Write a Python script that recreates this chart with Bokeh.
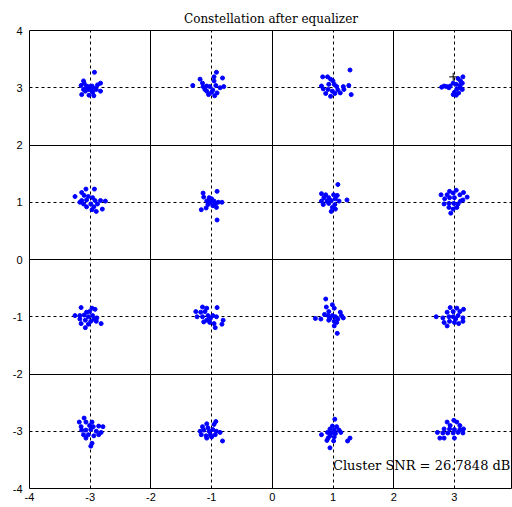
from bokeh.plotting import figure
from bokeh.models import FixedTicker, Grid, Range1d, Label
from bokeh.embed import file_html
from bokeh.resources import INLINE

# ---- data ----
title_text = "Constellation after equalizer"
snr_text = "Cluster SNR = 26.7848 dB"
tick_values = [-4, -3, -2, -1, 0, 1, 2, 3, 4]
tick_labels = ["-4", "-3", "-2", "-1", "0", "1", "2", "3", "4"]
solid_grid = [-2, 0, 2]
dashed_grid = [-3, -1, 1, 3]
ref_marker_x = [2.98]
ref_marker_y = [3.19]

# offsets (dI, dQ) of the received symbols around each ideal point
off_m3_p3 = [(0.07, 0.27), (-0.11, 0.12), (-0.15, 0.04), (-0.10, 0.08), (0.17, 0.08), (0.12, 0.05),
             (-0.06, 0.03), (-0.01, 0.02), (0.03, 0.03), (0.07, -0.01), (-0.03, -0.03), (0.01, -0.04),
             (-0.08, -0.06), (0.04, -0.08), (-0.14, -0.12), (0.17, -0.06), (0.06, -0.14), (-0.02, -0.13),
             (-0.06, -0.01), (0.10, -0.03), (-0.11, -0.03)]
off_m1_p3 = [(0.08, 0.27), (0.18, 0.17), (-0.19, 0.15), (-0.31, 0.04), (0.04, 0.19), (0.04, 0.12),
             (-0.15, 0.08), (-0.08, 0.03), (-0.03, 0.02), (0.07, 0.04), (0.14, 0.00), (0.02, -0.04),
             (-0.08, -0.06), (-0.05, -0.12), (0.05, -0.14), (0.09, -0.09), (-0.11, -0.03), (0.20, 0.02),
             (0.00, -0.08), (-0.14, 0.02)]
off_p1_p3 = [(0.28, 0.31), (-0.17, 0.19), (-0.09, 0.19), (-0.04, 0.15), (0.00, 0.12), (-0.19, 0.03),
             (-0.16, -0.02), (-0.12, -0.10), (-0.07, 0.06), (0.02, 0.06), (0.06, 0.02), (0.08, -0.04),
             (-0.01, -0.06), (0.03, -0.10), (-0.04, -0.15), (0.17, 0.02), (0.18, -0.03), (0.26, 0.04),
             (0.30, -0.12), (0.12, -0.09), (-0.08, -0.03)]
off_p3_p3 = [(0.14, 0.19), (0.10, 0.12), (0.06, 0.16), (-0.21, 0.01), (-0.13, 0.02), (-0.07, 0.03),
             (-0.02, 0.08), (0.03, 0.06), (0.09, 0.04), (0.13, 0.08), (0.04, -0.02), (0.13, -0.03),
             (0.00, -0.08), (0.03, -0.13), (-0.02, -0.12), (0.07, -0.09), (-0.09, 0.00), (-0.17, 0.03),
             (0.10, 0.00)]
off_m3_p1 = [(0.07, 0.23), (-0.07, 0.23), (-0.14, 0.17), (-0.25, 0.10), (-0.10, 0.12), (-0.03, 0.10),
             (0.04, 0.08), (-0.14, 0.03), (-0.06, 0.04), (0.08, 0.03), (0.17, 0.03), (0.25, 0.02),
             (-0.11, -0.03), (0.01, -0.03), (-0.06, -0.08), (0.06, -0.08), (0.03, -0.13), (0.10, -0.16),
             (0.20, -0.12), (0.12, -0.03), (-0.17, 0.00)]
off_m1_p1 = [(0.09, 0.19), (-0.14, 0.16), (-0.13, 0.09), (-0.04, 0.08), (-0.08, 0.02), (-0.02, 0.00),
             (0.04, 0.02), (0.11, 0.00), (0.17, 0.00), (-0.06, -0.04), (0.02, -0.06), (-0.17, -0.13),
             (-0.09, -0.10), (0.08, -0.09), (0.09, -0.31), (0.00, 0.06), (0.06, -0.03)]
off_p1_p1 = [(0.08, 0.31), (-0.19, 0.15), (-0.12, 0.13), (0.01, 0.13), (0.07, 0.12), (-0.15, 0.08),
             (-0.07, 0.08), (0.04, 0.06), (-0.19, 0.02), (-0.10, 0.02), (-0.03, 0.03), (0.10, 0.02),
             (0.23, 0.04), (-0.16, -0.04), (0.03, -0.04), (-0.01, -0.09), (0.04, -0.12), (-0.03, -0.16),
             (-0.07, -0.02)]
off_p3_p1 = [(0.03, 0.21), (-0.08, 0.19), (0.15, 0.17), (-0.22, 0.13), (-0.12, 0.13), (-0.02, 0.16),
             (0.09, 0.13), (0.21, 0.09), (-0.16, 0.06), (-0.08, 0.08), (0.00, 0.08), (0.14, 0.04),
             (-0.17, -0.03), (-0.09, -0.02), (-0.01, -0.02), (0.06, -0.03), (-0.09, -0.09), (-0.02, -0.12),
             (0.04, -0.09), (-0.06, -0.19), (0.10, 0.02)]
off_m3_m1 = [(-0.15, 0.16), (0.03, 0.15), (0.08, 0.13), (-0.06, 0.08), (-0.01, 0.09), (-0.25, 0.02),
             (-0.17, 0.02), (-0.10, 0.03), (-0.03, 0.00), (0.04, 0.02), (0.11, -0.02), (-0.17, -0.04),
             (-0.08, -0.06), (0.01, -0.08), (0.10, -0.08), (0.18, -0.12), (-0.15, -0.12), (-0.08, -0.19),
             (-0.03, -0.13), (0.06, -0.04)]
off_m1_m1 = [(-0.15, 0.17), (-0.08, 0.15), (0.09, 0.16), (-0.26, 0.09), (-0.18, 0.08), (-0.11, 0.09),
             (-0.24, 0.00), (-0.15, 0.00), (-0.06, 0.02), (0.02, 0.02), (0.08, 0.00), (-0.08, -0.06),
             (-0.02, -0.03), (-0.13, -0.09), (0.04, -0.12), (0.19, -0.06), (0.17, -0.13), (0.06, -0.19),
             (-0.03, -0.10)]
off_p1_m1 = [(-0.12, 0.31), (-0.01, 0.21), (-0.11, 0.17), (0.02, 0.15), (-0.07, 0.09), (0.12, 0.08),
             (-0.14, 0.04), (-0.08, 0.02), (-0.01, 0.02), (0.04, 0.00), (0.14, 0.02), (-0.29, -0.03),
             (-0.20, -0.04), (-0.05, -0.03), (0.08, -0.04), (0.17, -0.02), (0.02, -0.08), (0.06, -0.10),
             (0.02, -0.16), (0.07, -0.29), (-0.07, -0.06)]
off_p3_m1 = [(-0.07, 0.16), (0.04, 0.15), (0.15, 0.13), (-0.12, 0.08), (-0.02, 0.09), (0.09, 0.09),
             (-0.30, 0.00), (-0.19, -0.02), (-0.09, 0.00), (-0.02, 0.00), (0.06, 0.02), (0.14, -0.02),
             (-0.17, -0.10), (-0.08, -0.08), (0.00, -0.10), (0.07, -0.12), (0.14, -0.08), (-0.12, -0.16),
             (0.02, -0.04)]
off_m3_m3 = [(-0.10, 0.23), (-0.18, 0.16), (-0.07, 0.16), (0.03, 0.16), (-0.01, 0.10), (0.05, 0.08),
             (0.14, 0.09), (0.21, 0.08), (-0.14, 0.02), (-0.07, 0.02), (0.01, 0.03), (0.10, 0.00),
             (0.18, -0.02), (-0.11, -0.06), (-0.03, -0.06), (0.06, -0.08), (0.14, -0.06), (-0.07, -0.12),
             (0.03, -0.21), (0.01, -0.26), (-0.15, 0.08)]
off_m1_m3 = [(0.07, 0.17), (0.04, 0.12), (-0.08, 0.13), (-0.15, 0.08), (-0.06, 0.06), (-0.19, 0.00),
             (-0.13, 0.02), (-0.04, 0.00), (0.02, 0.03), (0.08, 0.00), (0.14, -0.02), (-0.17, -0.06),
             (-0.09, -0.08), (-0.02, -0.06), (0.06, -0.06), (0.18, -0.17), (-0.08, -0.12), (0.00, -0.10)]
off_p1_m3 = [(0.03, 0.21), (-0.01, 0.09), (0.06, 0.08), (-0.05, 0.04), (0.02, 0.02), (0.10, 0.02),
             (-0.19, -0.06), (-0.09, -0.02), (-0.03, -0.03), (0.04, -0.04), (-0.05, -0.08), (0.02, -0.10),
             (-0.10, -0.16), (0.01, -0.17), (-0.05, -0.29), (0.28, -0.12), (0.24, -0.17), (0.13, -0.02),
             (-0.08, -0.12)]
off_p3_m3 = [(-0.12, 0.16), (-0.01, 0.19), (0.04, 0.16), (-0.07, 0.10), (0.09, 0.10), (-0.17, 0.04),
             (-0.08, 0.04), (0.00, 0.03), (0.09, 0.03), (0.15, 0.04), (-0.28, -0.02), (-0.19, -0.03),
             (-0.11, -0.03), (-0.02, -0.03), (0.06, -0.02), (0.14, -0.03), (-0.24, -0.12), (-0.17, -0.12),
             (0.00, -0.12)]

clusters = {
    (-3, 3): off_m3_p3, (-1, 3): off_m1_p3, (1, 3): off_p1_p3, (3, 3): off_p3_p3,
    (-3, 1): off_m3_p1, (-1, 1): off_m1_p1, (1, 1): off_p1_p1, (3, 1): off_p3_p1,
    (-3, -1): off_m3_m1, (-1, -1): off_m1_m1, (1, -1): off_p1_m1, (3, -1): off_p3_m1,
    (-3, -3): off_m3_m3, (-1, -3): off_m1_m3, (1, -3): off_p1_m3, (3, -3): off_p3_m3,
}

xs, ys = [], []
for (ci, cq), offs in clusters.items():
    for dx, dy in offs:
        xs.append(ci + dx)
        ys.append(cq + dy)

# ---- figure ----
p = figure(width=512, height=507, output_backend="svg", toolbar_location=None,
           x_range=Range1d(-4, 3.957), y_range=Range1d(-4, 4),
           min_border_left=29, min_border_right=0, min_border_top=30, min_border_bottom=19)

p.title.text = title_text
p.title.align = "center"
p.title.text_font = "DejaVu Serif"
p.title.text_font_size = "12px"
p.title.text_font_style = "normal"
p.title.text_color = "#000000"

p.outline_line_color = "#000000"
p.outline_line_width = 1
p.outline_line_alpha = 1.0
p.background_fill_color = "white"
p.border_fill_color = "white"

p.xgrid.grid_line_color = None
p.ygrid.grid_line_color = None

for ax in (p.xaxis[0], p.yaxis[0]):
    ax.ticker = FixedTicker(ticks=tick_values)
    ax.major_label_overrides = {v: s for v, s in zip(tick_values, tick_labels)}
    ax.axis_line_color = None
    ax.major_tick_in = 0
    ax.major_tick_out = 0
    ax.minor_tick_in = 0
    ax.minor_tick_out = 0
    ax.major_label_text_font = "Liberation Sans"
    ax.major_label_text_font_size = "11px"
    ax.major_label_text_color = "#000000"
p.yaxis[0].major_label_standoff = 7
p.xaxis[0].major_label_standoff = 4

for dim in (0, 1):
    p.add_layout(Grid(dimension=dim, ticker=FixedTicker(ticks=solid_grid),
                      grid_line_color="#000000", grid_line_width=1))
    p.add_layout(Grid(dimension=dim, ticker=FixedTicker(ticks=dashed_grid),
                      grid_line_color="#000000", grid_line_width=1, grid_line_dash="3 3"))

p.scatter(xs, ys, marker="circle", size=4, fill_color="#0000ff", line_color="#0000ff")
p.scatter(ref_marker_x, ref_marker_y, marker="cross", size=8, line_color="#000000", line_width=1)

p.add_layout(Label(x=1.0, y=-3.6, text=snr_text, text_font="DejaVu Serif", text_font_size="13px",
                   text_baseline="middle", text_color="#000000"))

open("out.html", "w").write(file_html(p, INLINE))
